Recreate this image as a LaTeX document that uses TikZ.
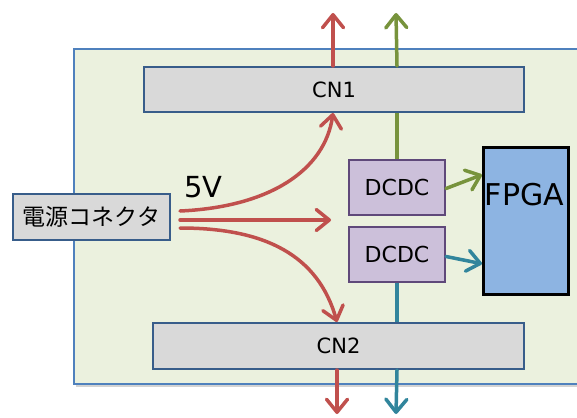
\documentclass[tikz,border=0pt]{standalone}
\usepackage{fontspec}
\setmainfont{DejaVu Sans}
\newfontfamily\jpfont{Noto Sans CJK JP}
\usetikzlibrary{arrows.meta,shadows}
\definecolor{pwred}{HTML}{C0504D}
\definecolor{pwgreen}{HTML}{77933C}
\definecolor{pwblue}{HTML}{31859C}
\definecolor{boardfill}{HTML}{EBF1DE}
\definecolor{boardline}{HTML}{4F81BD}
\definecolor{cnfill}{HTML}{D9D9D9}
\definecolor{cnline}{HTML}{385D8A}
\definecolor{dcfill}{HTML}{CCC0DA}
\definecolor{dcline}{HTML}{5F497A}
\definecolor{fpgafill}{HTML}{8DB4E2}
\begin{document}
\begin{tikzpicture}[x=1pt,y=-1pt,
  box/.style={draw,line width=2pt,anchor=north west,inner sep=0pt},
  cnbox/.style={box,fill=cnfill,draw=cnline,font=\fontsize{21}{24}\selectfont},
  dcbox/.style={box,fill=dcfill,draw=dcline,font=\fontsize{22}{24}\selectfont},
  wire/.style={line width=3.5pt,line cap=round},
  arr/.style={wire,-{Straight Barb[length=13pt,width=21pt,line width=3.5pt,round]}}
]
\useasboundingbox (0,0) rectangle (577,417);
% board
\fill[boardfill,drop shadow={shadow xshift=2pt,shadow yshift=-3pt,opacity=0.35}] (74,49) rectangle (590,384);
\draw[boardline,line width=1.5pt] (590,49) -- (74,49) -- (74,384) -- (590,384);
% nodes
\node[cnbox,minimum width=380pt,minimum height=45pt] (cn1) at (143,66) {CN1};
\node[cnbox,minimum width=371pt,minimum height=46pt] (cn2) at (152,322) {CN2};
\node[box,fill=cnfill,draw=cnline,minimum width=157pt,minimum height=46pt,font=\jpfont\fontsize{23}{26}\selectfont] (pw) at (12,193) {電源コネクタ};
\node[dcbox,minimum width=96pt,minimum height=55pt] (dc1) at (348,159) {DCDC};
\node[dcbox,minimum width=96pt,minimum height=55pt] (dc2) at (348,226) {DCDC};
\node[box,fill=fpgafill,draw=black,line width=2.5pt,minimum width=85pt,minimum height=147pt] (fpga) at (482,146) {};
\node[font=\fontsize{30}{32}\selectfont] (fpgat) at (524.5,195) {FPGA};
\node[font=\fontsize{29}{32}\selectfont,anchor=base west] (v5) at (181,197) {5V};
% external arrow ends
\coordinate (t1) at (333,13);
\coordinate (t2) at (396,13);
\coordinate (b1) at (337,414);
\coordinate (b2) at (396,414);
% red power
\draw[arr,pwred] ([xshift=9pt,yshift=6pt]pw.east) .. controls (270,207) and (325,170) .. ([xshift=190pt]cn1.south west);
\draw[arr,pwred] ([xshift=9pt,yshift=-3pt]pw.east) -- ([xshift=160pt,yshift=-3pt]pw.east);
\draw[arr,pwred] ([xshift=9pt,yshift=-11pt]pw.east) .. controls (265,228) and (318,255) .. ([xshift=185pt]cn2.north west);
\draw[arr,pwred] ([xshift=190pt]cn1.north west) -- (t1);
\draw[arr,pwred] ([xshift=185pt]cn2.south west) -- (b1);
% green
\draw[wire,pwgreen,line cap=butt] (dc1.north) -- (dc1.north |- cn1.south);
\draw[arr,pwgreen] (dc1.north |- cn1.north) -- (t2);
\draw[arr,pwgreen] ([yshift=-1pt]dc1.east) -- ([yshift=46pt]fpga.west);
% blue
\draw[wire,pwblue,line cap=butt] (dc2.south) -- (dc2.south |- cn2.north);
\draw[arr,pwblue] (dc2.south |- cn2.south) -- (b2);
\draw[arr,pwblue] ([yshift=-2pt]dc2.east) -- ([yshift=-43pt]fpga.west);
\end{tikzpicture}
\end{document}
